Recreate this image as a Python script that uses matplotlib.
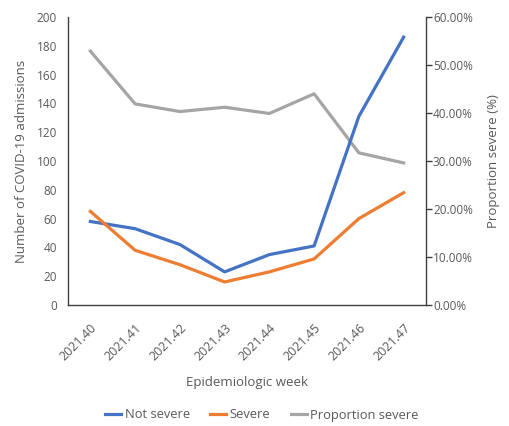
import matplotlib
matplotlib.use("Agg")
import matplotlib.pyplot as plt
from matplotlib.ticker import FuncFormatter, MultipleLocator

weeks = ["2021.40", "2021.41", "2021.42", "2021.43", "2021.44", "2021.45", "2021.46", "2021.47"]
not_severe = [58, 53, 42, 23, 35, 41, 131, 186]
severe = [65, 38, 28, 16, 23, 32, 60, 78]
proportion_severe = [52.9, 41.9, 40.3, 41.2, 39.9, 44.0, 31.7, 29.6]

plt.rcParams['font.family'] = ['Open Sans', 'DejaVu Sans']
txt = '#595959'

fig = plt.figure(figsize=(5.10, 4.26), dpi=100)
ax = fig.add_axes([68/510, 1 - 305/426, (426-68)/510, (305-17)/426])
ax2 = ax.twinx()

x = list(range(len(weeks)))
l1, = ax.plot(x, not_severe, color='#4472C4', lw=2.3, label='Not severe')
l2, = ax.plot(x, severe, color='#ED7D31', lw=2.3, label='Severe')
l3, = ax2.plot(x, proportion_severe, color='#A5A5A5', lw=2.3, label='Proportion severe')

ax.set_zorder(ax2.get_zorder() + 1)
ax.patch.set_visible(False)

ax.set_xlim(-0.5, 7.5)
ax.set_ylim(0, 200)
ax.yaxis.set_major_locator(MultipleLocator(20))
ax2.set_ylim(0, 60)
ax2.yaxis.set_major_locator(MultipleLocator(10))
ax2.yaxis.set_major_formatter(FuncFormatter(lambda v, p: f"{v:.2f}%"))

ax.set_xticks(x)
ax.set_xticklabels(weeks, rotation=45, ha='right', rotation_mode='anchor')
ax.tick_params(axis='x', length=0, pad=12, labelsize=9, labelcolor=txt)
ax.tick_params(axis='y', length=0, pad=8, labelsize=8.5, labelcolor=txt)
ax2.tick_params(axis='y', length=4, width=1, color='#404040', pad=1, labelsize=8.5, labelcolor=txt)

for a in (ax, ax2):
    a.spines['top'].set_visible(False)
    for s in ('left', 'right', 'bottom'):
        a.spines[s].set_color('#404040')
        a.spines[s].set_linewidth(1.0)
ax.spines['right'].set_visible(False)
ax2.spines['left'].set_visible(False)
ax2.spines['bottom'].set_visible(False)

ax.set_ylabel('Number of COVID-19 admissions', fontsize=9.5, color=txt, labelpad=6)
ax2.set_ylabel('Proportion severe (%)', fontsize=9.5, color=txt, labelpad=10)
ax.set_xlabel('Epidemiologic week', fontsize=9.5, color=txt, labelpad=9)

fig.legend(handles=[l1, l2, l3], loc='center', bbox_to_anchor=(262/510, 1 - 415/426),
           ncol=3, frameon=False, fontsize=9.3, handlelength=1.2, handletextpad=0.3,
           columnspacing=1.6, labelcolor=txt)

fig.savefig('out.png', dpi=100, facecolor='white')
